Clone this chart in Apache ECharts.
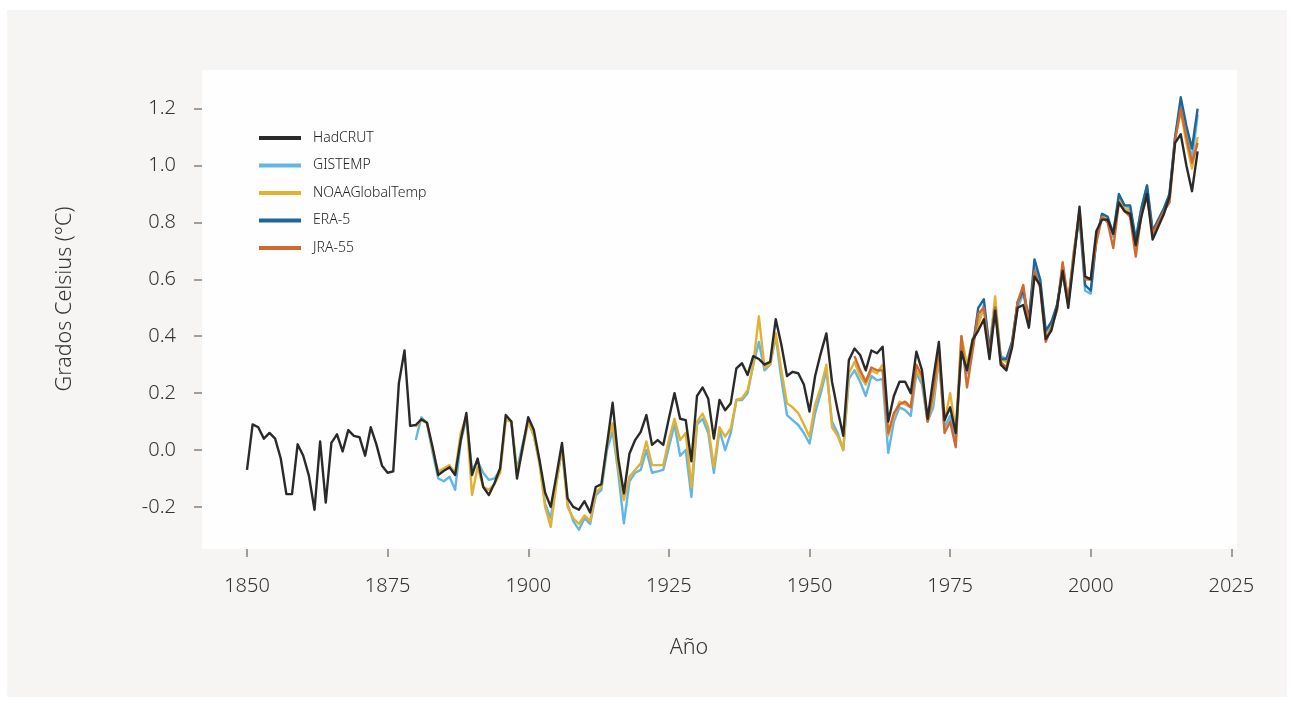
<!DOCTYPE html>
<html>
<head>
<meta charset="utf-8">
<script src="https://cdn.jsdelivr.net/npm/echarts@6/dist/echarts.min.js"></script>
<style>
  html, body { margin: 0; padding: 0; background: #ffffff; }
  #panel { position: absolute; left: 7px; top: 10px; width: 1280px; height: 687px; background: #f6f5f3; }
  #chart { position: absolute; left: 0; top: 0; width: 1293px; height: 706px; }
</style>
</head>
<body>
<div id="panel"></div>
<div id="chart"></div>
<script>
// Global mean temperature anomaly (°C, relative to 1850-1900), one value per year.
const hadcrutStart = 1850;
const hadcrut = [
  -0.07, 0.09, 0.08, 0.04, 0.06, 0.04, -0.03, -0.155, -0.155, 0.02,
  -0.02, -0.09, -0.21, 0.03, -0.185, 0.025, 0.055, -0.005, 0.07, 0.05,
  0.045, -0.02, 0.08, 0.02, -0.055, -0.08, -0.075, 0.235, 0.35, 0.085,
  0.088, 0.108, 0.096, 0.01, -0.088, -0.073, -0.061, -0.088, 0.035, 0.13,
  -0.088, -0.03, -0.13, -0.158, -0.117, -0.064, 0.123, 0.1, -0.1, 0.01,
  0.115, 0.07, -0.035, -0.15, -0.2, -0.09, 0.025, -0.17, -0.2, -0.21,
  -0.18, -0.22, -0.13, -0.12, 0.02, 0.166, -0.03, -0.152, -0.012, 0.035,
  0.064, 0.123, 0.018, 0.035, 0.018, 0.111, 0.2, 0.11, 0.105, -0.04,
  0.19, 0.22, 0.18, 0.04, 0.176, 0.14, 0.164, 0.287, 0.305, 0.264,
  0.33, 0.32, 0.3, 0.31, 0.46, 0.37, 0.26, 0.275, 0.27, 0.23,
  0.135, 0.26, 0.34, 0.41, 0.24, 0.14, 0.05, 0.316, 0.357, 0.334,
  0.28, 0.35, 0.34, 0.363, 0.1, 0.19, 0.24, 0.24, 0.2, 0.346,
  0.28, 0.11, 0.25, 0.38, 0.105, 0.15, 0.06, 0.346, 0.28, 0.387,
  0.42, 0.46, 0.32, 0.49, 0.3, 0.28, 0.36, 0.5, 0.51, 0.43,
  0.61, 0.58, 0.39, 0.42, 0.5, 0.63, 0.5, 0.67, 0.855, 0.61,
  0.6, 0.77, 0.81, 0.81, 0.76, 0.87, 0.84, 0.83, 0.72, 0.82,
  0.9, 0.74, 0.785, 0.83, 0.89, 1.08, 1.11, 1.0, 0.91, 1.05
];

const gistempStart = 1880;
const gistemp = [
  0.035, 0.115, 0.095, -0.01, -0.1, -0.11, -0.094, -0.14, 0.03, 0.11,
  -0.07, -0.04, -0.08, -0.105, -0.1, -0.07, 0.11, 0.1, -0.07, 0.02,
  0.1, 0.05, -0.04, -0.19, -0.24, -0.11, 0.0, -0.19, -0.25, -0.28,
  -0.24, -0.26, -0.16, -0.14, 0.0, 0.066, -0.08, -0.258, -0.11, -0.08,
  -0.07, 0.0, -0.08, -0.075, -0.07, 0.01, 0.09, -0.02, 0.0, -0.165,
  0.09, 0.11, 0.06, -0.08, 0.07, 0.0, 0.06, 0.176, 0.176, 0.2,
  0.3, 0.38, 0.28, 0.3, 0.4, 0.25, 0.123, 0.105, 0.088, 0.06,
  0.023, 0.13, 0.2, 0.28, 0.1, 0.06, 0.0, 0.25, 0.28, 0.24,
  0.19, 0.26, 0.245, 0.25, -0.01, 0.1, 0.15, 0.14, 0.12, 0.27,
  0.23, 0.1, 0.15, 0.32, 0.08, 0.12, 0.03, 0.36, 0.27, 0.37,
  0.45, 0.51, 0.36, 0.52, 0.33, 0.32, 0.37, 0.5, 0.55, 0.46,
  0.64, 0.6, 0.41, 0.45, 0.5, 0.65, 0.52, 0.7, 0.82, 0.56,
  0.55, 0.74, 0.83, 0.82, 0.75, 0.89, 0.86, 0.85, 0.74, 0.85,
  0.93, 0.77, 0.8, 0.84, 0.9, 1.1, 1.22, 1.13, 1.02, 1.18
];

const noaaStart = 1880;
const noaa = [
  0.082, 0.105, 0.095, 0.0, -0.076, -0.064, -0.053, -0.08, 0.06, 0.117,
  -0.158, -0.06, -0.13, -0.14, -0.12, -0.08, 0.105, 0.1, -0.08, 0.0,
  0.1, 0.05, -0.05, -0.2, -0.27, -0.12, 0.01, -0.2, -0.24, -0.26,
  -0.23, -0.25, -0.15, -0.13, 0.02, 0.094, -0.06, -0.176, -0.094, -0.07,
  -0.047, 0.03, -0.053, -0.053, -0.053, 0.035, 0.11, 0.035, 0.06, -0.13,
  0.1, 0.128, 0.08, -0.06, 0.08, 0.047, 0.076, 0.176, 0.182, 0.21,
  0.3, 0.47, 0.29, 0.3, 0.41, 0.28, 0.164, 0.15, 0.13, 0.09,
  0.047, 0.16, 0.22, 0.3, 0.08, 0.05, 0.0, 0.27, 0.31, 0.26,
  0.23, 0.28, 0.27, 0.3, 0.05, 0.12, 0.17, 0.16, 0.15, 0.28,
  0.25, 0.1, 0.18, 0.33, 0.1, 0.2, 0.07, 0.4, 0.3, 0.39,
  0.44, 0.5, 0.35, 0.54, 0.32, 0.31, 0.36, 0.52, 0.57, 0.45,
  0.62, 0.58, 0.4, 0.43, 0.51, 0.62, 0.51, 0.7, 0.84, 0.6,
  0.6, 0.75, 0.82, 0.81, 0.77, 0.88, 0.85, 0.84, 0.73, 0.84,
  0.91, 0.76, 0.8, 0.83, 0.89, 1.1, 1.19, 1.08, 0.99, 1.1
];

const era5Start = 1979;
const era5 = [
  0.36,
  0.5, 0.53, 0.35, 0.5, 0.32, 0.32, 0.38, 0.52, 0.56, 0.46,
  0.67, 0.6, 0.42, 0.45, 0.51, 0.63, 0.52, 0.68, 0.83, 0.58,
  0.56, 0.74, 0.83, 0.82, 0.76, 0.9, 0.86, 0.86, 0.74, 0.85,
  0.93, 0.77, 0.81, 0.85, 0.9, 1.1, 1.24, 1.14, 1.06, 1.2
];

const jra55Start = 1958;
const jra55 = [
  0.33, 0.28,
  0.24, 0.29, 0.28, 0.28, 0.06, 0.13, 0.16, 0.17, 0.15, 0.3,
  0.26, 0.1, 0.2, 0.36, 0.06, 0.1, 0.01, 0.4, 0.22, 0.35,
  0.48, 0.5, 0.33, 0.5, 0.31, 0.29, 0.37, 0.52, 0.58, 0.44,
  0.63, 0.57, 0.38, 0.43, 0.49, 0.66, 0.52, 0.69, 0.84, 0.6,
  0.6, 0.73, 0.82, 0.8, 0.71, 0.87, 0.84, 0.82, 0.68, 0.83,
  0.89, 0.76, 0.8, 0.84, 0.87, 1.09, 1.2, 1.1, 1.01, 1.08
];

const xTicks = [1850, 1875, 1900, 1925, 1950, 1975, 2000, 2025];
const yTicks = [-0.2, 0.0, 0.2, 0.4, 0.6, 0.8, 1.0, 1.2];

const FONT = "'Noto Sans', 'Open Sans', sans-serif";

function toPairs(start, values) {
  return values.map((v, i) => [start + i, v]);
}

function lineSeries(name, start, values, color, z) {
  return {
    name: name,
    type: 'line',
    data: toPairs(start, values),
    symbol: 'none',
    z: z,
    lineStyle: { color: color, width: 2.4, join: 'round' },
    itemStyle: { color: color },
    emphasis: { disabled: true },
    animation: false
  };
}

const chart = echarts.init(document.getElementById('chart'), null, { renderer: 'canvas' });

chart.setOption({
  backgroundColor: 'transparent',
  animation: false,
  grid: {
    left: 202, top: 70, right: 56, bottom: 157,
    show: true, backgroundColor: '#fefefe', borderWidth: 0
  },
  legend: {
    orient: 'vertical',
    left: 254, top: 126,
    icon: 'rect',
    itemWidth: 42, itemHeight: 4, itemGap: 13.5,
    selectedMode: false,
    textStyle: { fontFamily: FONT, fontWeight: 300, fontSize: 14, color: '#222222', padding: [0, 0, 0, 7] },
    data: ['HadCRUT', 'GISTEMP', 'NOAAGlobalTemp', 'ERA-5', 'JRA-55']
  },
  xAxis: {
    type: 'value', min: 1842, max: 2026,
    axisLine: { show: false, onZero: false },
    splitLine: { show: false },
    axisTick: { show: true, length: 8, customValues: xTicks, lineStyle: { color: '#a39d98', width: 2 } },
    axisLabel: {
      customValues: xTicks, margin: 27,
      fontFamily: FONT, fontWeight: 300, fontSize: 20, color: '#333333',
      formatter: v => String(v)
    }
  },
  yAxis: {
    type: 'value', min: -0.348, max: 1.336,
    axisLine: { show: false, onZero: false },
    splitLine: { show: false },
    axisTick: { show: true, length: 8, customValues: yTicks, lineStyle: { color: '#a39d98', width: 2 } },
    axisLabel: {
      customValues: yTicks, margin: 26,
      fontFamily: FONT, fontWeight: 300, fontSize: 20, color: '#333333',
      formatter: v => v.toFixed(1)
    }
  },
  graphic: [
    {
      type: 'text', x: 65, y: 299, rotation: Math.PI / 2, silent: true,
      style: { text: 'Grados Celsius (°C)', fill: '#333333', font: "300 21.5px " + FONT, align: 'center', verticalAlign: 'middle' }
    },
    {
      type: 'text', x: 689, y: 648, silent: true,
      style: { text: 'Año', fill: '#333333', font: "300 21.5px " + FONT, align: 'center', verticalAlign: 'middle' }
    }
  ],
  series: [
    lineSeries('HadCRUT', hadcrutStart, hadcrut, '#2a2a2a', 6),
    lineSeries('GISTEMP', gistempStart, gistemp, '#62b5e5', 2),
    lineSeries('NOAAGlobalTemp', noaaStart, noaa, '#e2b132', 3),
    lineSeries('ERA-5', era5Start, era5, '#1d6699', 4),
    lineSeries('JRA-55', jra55Start, jra55, '#d06a2e', 5)
  ]
});
</script>
</body>
</html>
